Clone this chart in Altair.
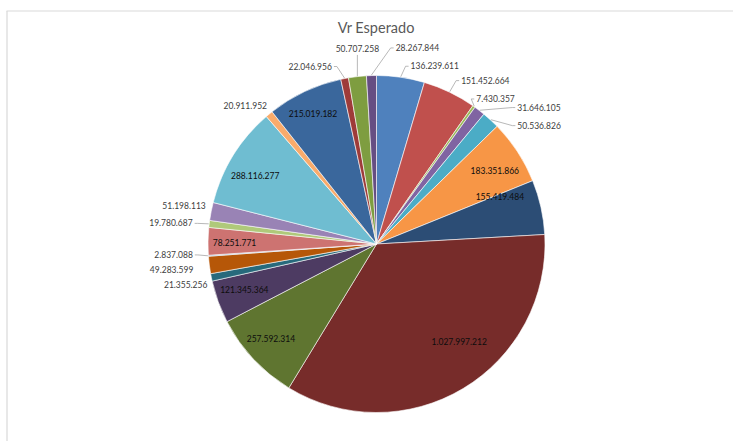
import altair as alt
import numpy as np
import pandas as pd

title = "Vr Esperado"
values = [136239611, 151452664, 7430357, 31646105, 50536826, 183351866,
          155419484, 1027997212, 257592314, 121345364, 21355256, 49283599,
          2837088, 78251771, 19780687, 51198113, 288116277, 20911952,
          215019182, 22046956, 50707258, 28267844]
colors = ["#4F81BD", "#C0504D", "#9BBB59", "#8064A2", "#4BACC6", "#F79646",
          "#2C4D75", "#772C2A", "#5F7530", "#4D3B62", "#276A7C", "#B65708",
          "#729ACA", "#CD7371", "#AFC97A", "#9983B5", "#6FBDD1", "#F9AB6B",
          "#3A679C", "#9E3B39", "#7E9D40", "#664E83"]

# ---- layout (Excel "best fit" label placement) ----
CX, CY, R = 376.5, 244.0, 168.5
label_nudge = [2.6, 1.7, -0.8, 8.2, 7.3, 1.5, -8.2, -9.3, 1.1, 0.8, -2.2,
               -0.9, 0.6, -0.6, -0.45, 1.5, -2.5, 1.1, -0.7, -3.2, 0.9, 7.3]
label_dist = [181, 184, 176, 196, 184, 139, 132, 128, 142, 140, 174, 185,
              184, 142, 185, 175, 139, 176, 145, 183, 196, 197]
label_align = ["left", "left", "left", "left", "left", "in", "in", "in", "in",
               "in", "right", "right", "right", "in", "right", "right", "in",
               "right", "in", "right", "center", "left"]
leader = [1, 1, 1, 1, 1, 0, 0, 0, 0, 0, 0, 0, 1, 0, 1, 0, 0, 0, 0, 1, 1, 1]

vals = np.array(values, dtype=float)
cum = np.cumsum(vals)
mid = (cum - vals / 2) / vals.sum() * 360.0

df = pd.DataFrame({
    "idx": list(range(len(values))),
    "value": values,
    "label": [f"{v:,}".replace(",", ".") for v in values],
    "mid": mid,
    "ldeg": mid + np.array(label_nudge),
    "lr": label_dist,
    "al": label_align,
    "leader": leader,
})

FONT = "Lato"

base = alt.Chart(df).transform_calculate(
    a="datum.ldeg*PI/180",
    m="datum.mid*PI/180",
).transform_calculate(
    lx=f"{CX} + datum.lr*sin(datum.a)",
    ly=f"{CY} - datum.lr*cos(datum.a)",
    sx=f"{CX} + {R + 0.5}*sin(datum.m)",
    sy=f"{CY} - {R + 0.5}*cos(datum.m)",
).transform_calculate(
    ex="datum.al=='left' ? datum.lx-5 : (datum.al=='right' ? datum.lx+5 : datum.lx)",
    ey="datum.al=='center' ? datum.ly+6 : datum.ly",
    tx="datum.al=='left' ? datum.lx-2 : (datum.al=='right' ? datum.lx+2 : datum.lx)",
)

arcs = alt.Chart(df).mark_arc(outerRadius=R, stroke="#ffffff", strokeWidth=0.6).encode(
    theta=alt.Theta("value:Q", stack=True),
    order=alt.Order("idx:Q"),
    color=alt.Color("idx:N", scale=alt.Scale(domain=list(range(len(values))), range=colors), legend=None),
    x=alt.value(CX),
    y=alt.value(CY),
)

lead = base.transform_filter("datum.leader == 1")
seg1 = lead.mark_rule(color="#A6A6A6", strokeWidth=0.8).encode(
    x=alt.X("sx:Q", scale=None), y=alt.Y("sy:Q", scale=None),
    x2="ex:Q", y2="ey:Q")
seg2 = lead.mark_rule(color="#A6A6A6", strokeWidth=0.8).encode(
    x=alt.X("ex:Q", scale=None), y=alt.Y("ey:Q", scale=None),
    x2="tx:Q", y2="ey:Q")

def label_layer(al, align, color):
    return base.transform_filter(f"datum.al == '{al}'").mark_text(
        align=align, baseline="middle", font=FONT, fontSize=8.5, color=color
    ).encode(x=alt.X("lx:Q", scale=None), y=alt.Y("ly:Q", scale=None), text="label:N")

lab_in = label_layer("in", "center", "#0d0d0d")
lab_l = label_layer("left", "left", "#404040")
lab_r = label_layer("right", "right", "#404040")
lab_c = label_layer("center", "center", "#404040")

one = alt.Chart(pd.DataFrame({"t": [title]}))
title_mark = one.mark_text(font=FONT, fontSize=14.5, color="#595959", baseline="middle", align="center").encode(
    text="t:N", x=alt.value(CX - 0.5), y=alt.value(28.5))
border_top = one.mark_rule(color="#D9D9D9", strokeWidth=1).encode(
    x=alt.value(6.5), x2=alt.value(733), y=alt.value(11))
border_left = one.mark_rule(color="#D9D9D9", strokeWidth=1.2).encode(
    x=alt.value(7), y=alt.value(11), y2=alt.value(441))

chart = alt.layer(
    border_top, border_left, arcs, seg1, seg2, title_mark,
    lab_in, lab_l, lab_r, lab_c,
).properties(
    width=733, height=441, padding=0,
    autosize=alt.AutoSizeParams(type="none"),
    background="#ffffff",
).configure_view(stroke=None)

chart.save("out.html", embed_options={"renderer": "svg", "actions": False})
